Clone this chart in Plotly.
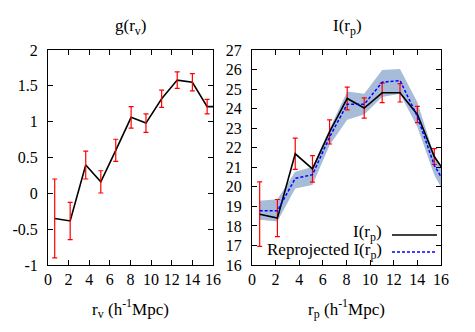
import plotly.graph_objects as go

# ---- data ----
r_bins = [0.65, 2.15, 3.66, 5.12, 6.57, 8.06, 9.5, 11.02, 12.53, 14.0, 15.43, 16.9]

g_rv = [-0.35, -0.385, 0.395, 0.16, 0.60, 1.06, 0.98, 1.32, 1.58, 1.55, 1.21, 1.21]
g_err = [0.55, 0.26, 0.195, 0.155, 0.155, 0.15, 0.13, 0.12, 0.115, 0.12, 0.10]

I_rp = [18.6, 18.4, 21.69, 20.92, 22.81, 24.52, 24.03, 24.81, 24.81, 23.7, 21.55, 20.25]
I_err = [1.65, 0.95, 0.8, 0.68, 0.62, 0.58, 0.52, 0.5, 0.47, 0.42, 0.4]
I_reproj = [18.78, 18.77, 20.43, 20.62, 22.55, 24.23, 24.22, 25.35, 25.44, 23.6, 21.1, 19.6]
band_lo = [18.31, 18.22, 19.92, 20.09, 22.13, 23.43, 23.7, 24.6, 24.76, 23.06, 20.6, 19.0]
band_hi = [19.29, 19.36, 20.77, 21.02, 22.97, 24.88, 24.76, 25.98, 26.03, 24.33, 21.6, 20.2]

x_ticks = [0, 2, 4, 6, 8, 10, 12, 14, 16]
g_ticks = [-1, -0.5, 0, 0.5, 1, 1.5, 2]
g_ticklabels = ["-1", "-0.5", "0", "0.5", "1", "1.5", "2"]
I_ticks = list(range(16, 28))

W, H = 475, 332
FONT = "Liberation Serif"
RED = "#ff0000"
BAND = "#a7bcd9"
TICK_SIZE = 16
TEXT_SIZE = 17

n_err = len(g_err)

fig = go.Figure()

# left panel
fig.add_trace(go.Scatter(x=r_bins, y=g_rv, mode="lines",
                         line=dict(color="black", width=1.6),
                         xaxis="x", yaxis="y", showlegend=False))
fig.add_trace(go.Scatter(x=r_bins[:n_err], y=g_rv[:n_err], mode="markers",
                         marker=dict(size=1, color=RED, opacity=0),
                         error_y=dict(type="data", array=g_err, color=RED,
                                      thickness=1.2, width=2.5),
                         xaxis="x", yaxis="y", showlegend=False))

# right panel band
fig.add_trace(go.Scatter(x=r_bins, y=band_lo, mode="lines",
                         line=dict(width=0, color=BAND),
                         xaxis="x2", yaxis="y2", showlegend=False))
fig.add_trace(go.Scatter(x=r_bins, y=band_hi, mode="lines", fill="tonexty",
                         fillcolor=BAND, line=dict(width=0, color=BAND),
                         xaxis="x2", yaxis="y2", showlegend=False))
fig.add_trace(go.Scatter(x=r_bins[:len(I_err)], y=I_rp[:len(I_err)], mode="markers",
                         marker=dict(size=1, color=RED, opacity=0),
                         error_y=dict(type="data", array=I_err, color=RED,
                                      thickness=1.2, width=2.5),
                         xaxis="x2", yaxis="y2", showlegend=False))
fig.add_trace(go.Scatter(x=r_bins, y=I_rp, mode="lines",
                         line=dict(color="black", width=1.6),
                         xaxis="x2", yaxis="y2", showlegend=False))
fig.add_trace(go.Scatter(x=r_bins, y=I_reproj, mode="lines",
                         line=dict(color="blue", width=1.5, dash="3px,2px"),
                         xaxis="x2", yaxis="y2", showlegend=False))

def px_x(p):
    return p / W

def px_y(p):
    return (H - p) / H

axis_common = dict(showline=True, linecolor="black", linewidth=1, mirror="allticks",
                   ticks="inside", ticklen=5, tickcolor="black", tickwidth=1,
                   showgrid=False, zeroline=False, automargin=False,
                   tickfont=dict(family=FONT, size=TICK_SIZE, color="black"))

fig.update_layout(
    width=W, height=H, autosize=False,
    margin=dict(l=0, r=0, t=0, b=0, pad=0),
    paper_bgcolor="white", plot_bgcolor="white",
    font=dict(family=FONT, size=TEXT_SIZE, color="black"),
    xaxis=dict(domain=[px_x(48), px_x(213)], range=[0, 16], tickvals=x_ticks,
               anchor="y",
               title=dict(text="r<sub>v</sub> (h<sup>-1</sup>Mpc)",
                          font=dict(family=FONT, size=TEXT_SIZE), standoff=15),
               **axis_common),
    yaxis=dict(domain=[px_y(265), px_y(50)], range=[-1, 2], tickvals=g_ticks,
               ticktext=g_ticklabels, anchor="x", ticklabelstandoff=6, **axis_common),
    xaxis2=dict(domain=[px_x(252), px_x(441)], range=[0, 16], tickvals=x_ticks,
                anchor="y2",
                title=dict(text="r<sub>p</sub> (h<sup>-1</sup>Mpc)",
                           font=dict(family=FONT, size=TEXT_SIZE), standoff=15),
                **axis_common),
    yaxis2=dict(domain=[px_y(265), px_y(50)], range=[16, 27], tickvals=I_ticks,
                anchor="x2", ticklabelstandoff=6, **axis_common),
)

# panel titles
for txt, xc in (("g(r<sub>v</sub>)", 130), ("I(r<sub>p</sub>)", 347)):
    fig.add_annotation(text=txt, x=px_x(xc), y=px_y(27), xref="paper", yref="paper",
                       xanchor="center", yanchor="middle", showarrow=False,
                       font=dict(family=FONT, size=TEXT_SIZE))

# legend (gnuplot style: text left, sample right)
leg_items = [("I(r<sub>p</sub>)", dict(color="black", width=1.6, dash="solid"), 233, 235),
             ("Reprojected I(r<sub>p</sub>)", dict(color="blue", width=1.5, dash="3px,2px"), 251, 252)]
for txt, ln, ytxt, yline in leg_items:
    fig.add_annotation(text=txt, x=px_x(384), y=px_y(ytxt), xref="paper", yref="paper",
                       xanchor="right", yanchor="middle", showarrow=False,
                       font=dict(family=FONT, size=TEXT_SIZE))
    fig.add_shape(type="line", x0=px_x(392), x1=px_x(437), y0=px_y(yline), y1=px_y(yline),
                  xref="paper", yref="paper", line=ln)

fig.write_html("out.html", config={"responsive": False, "displayModeBar": False},
               post_script="document.body.style.margin='0px';")
